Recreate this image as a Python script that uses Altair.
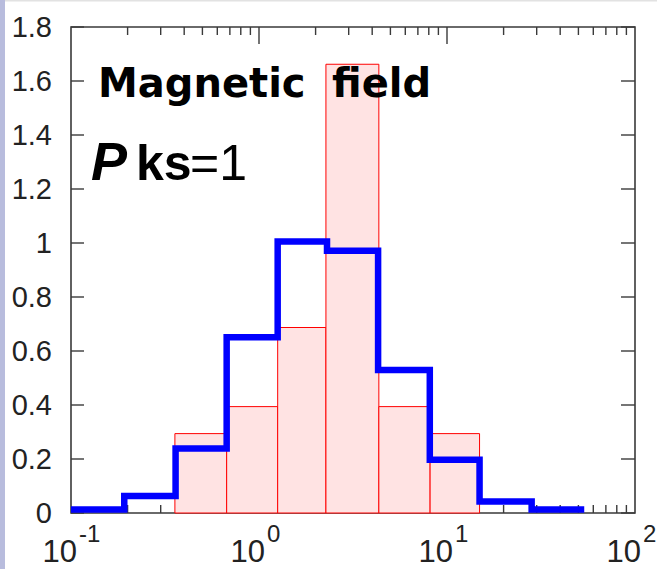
import altair as alt
import pandas as pd

# ---- data ----
# pink reference histogram (bin edges and heights)
pink_left = [0.357, 0.673, 1.257, 2.27, 4.34, 8.13]
pink_right = [0.673, 1.257, 2.27, 4.34, 8.13, 14.9]
pink_value = [0.294, 0.394, 0.687, 1.662, 0.394, 0.294]

# blue step histogram (bin edges and heights)
blue_edges = [0.1, 0.192, 0.36, 0.673, 1.257, 2.3, 4.3, 8.1, 14.9, 28.2, 53.7]
blue_value = [0.013, 0.063, 0.239, 0.651, 1.006, 0.971, 0.530, 0.197, 0.043, 0.013]

# axes
y_ticks = [0, 0.2, 0.4, 0.6, 0.8, 1.0, 1.2, 1.4, 1.6, 1.8]
y_tick_labels = ["0", "0.2", "0.4", "0.6", "0.8", "1", "1.2", "1.4", "1.6", "1.8"]
x_major = [1, 10]
x_minor = [0.2, 0.3, 0.4, 0.5, 0.6, 0.7, 0.8, 0.9,
           2, 3, 4, 5, 6, 7, 8, 9,
           20, 30, 40, 50, 60, 70, 80, 90]
x_label_values = [0.1, 1, 10, 100]
x_label_base = ["10", "10", "10", "10"]
x_label_exp = ["-1", "0", "1", "2"]

# annotation text
title_words = ["Magnetic", "field"]
pks_parts = ["P", "ks", "=1"]

# ---- layout / style ----
W, H = 564, 486
TICK = "#3a3a3a"
FONT = "'Liberation Sans', Arial, Helvetica, sans-serif"

xs = alt.Scale(type="log", domain=[0.1, 100])
ys = alt.Scale(domain=[0, 1.8])

ytick_df = pd.DataFrame({"v": y_ticks, "lab": y_tick_labels})
xmaj_df = pd.DataFrame({"v": x_major})
xmin_df = pd.DataFrame({"v": x_minor})

left_ticks = alt.Chart(ytick_df).mark_rule(color=TICK, strokeWidth=1.4).encode(
    y=alt.Y("v:Q", scale=ys, axis=None),
    x=alt.value(0), x2=alt.value(13))
right_ticks = alt.Chart(ytick_df).mark_rule(color=TICK, strokeWidth=1.4).encode(
    y=alt.Y("v:Q", scale=ys, axis=None),
    x=alt.value(W - 14), x2=alt.value(W))
y_labels = alt.Chart(ytick_df).mark_text(align="right", baseline="middle", dx=-19, dy=1,
                                         font=FONT, fontSize=29, color="#222222").encode(
    y=alt.Y("v:Q", scale=ys, axis=None), x=alt.value(0), text="lab:N")

def xticks(df, length):
    top = alt.Chart(df).mark_rule(color=TICK, strokeWidth=1.4).encode(
        x=alt.X("v:Q", scale=xs, axis=None), y=alt.value(0), y2=alt.value(length))
    bot = alt.Chart(df).mark_rule(color=TICK, strokeWidth=1.4).encode(
        x=alt.X("v:Q", scale=xs, axis=None), y=alt.value(H), y2=alt.value(H - length))
    return [top, bot]

pink_df = pd.DataFrame({"x0": pink_left, "x1": pink_right, "v": pink_value})
bars = alt.Chart(pink_df).mark_rect(fill="#FFE3E3", stroke="#FF0000", strokeWidth=1).encode(
    x=alt.X("x0:Q", scale=xs, axis=None), x2="x1:Q",
    y=alt.Y("v:Q", scale=ys, axis=None), y2=alt.datum(0))

blue_df = pd.DataFrame({"x": blue_edges, "v": blue_value + [blue_value[-1]]})
line = alt.Chart(blue_df).mark_line(color="#0000FF", strokeWidth=6.5, interpolate="step-after",
                                    strokeCap="butt", strokeJoin="miter").encode(
    x=alt.X("x:Q", scale=xs, axis=None), y=alt.Y("v:Q", scale=ys, axis=None))

xl_df = pd.DataFrame({"v": x_label_values, "base": x_label_base, "exp": x_label_exp})
xl_base = alt.Chart(xl_df).mark_text(align="right", baseline="alphabetic", dx=6,
                                     font=FONT, fontSize=31, color="#222222").encode(
    x=alt.X("v:Q", scale=xs, axis=None), y=alt.value(H + 49), text="base:N")
xl_exp = alt.Chart(xl_df).mark_text(align="left", baseline="alphabetic", dx=8,
                                    font=FONT, fontSize=24, color="#222222").encode(
    x=alt.X("v:Q", scale=xs, axis=None), y=alt.value(H + 29), text="exp:N")

def label(text, x, y, **kw):
    return alt.Chart(pd.DataFrame({"t": [text]})).mark_text(
        align="left", baseline="alphabetic", color="#000000", **kw).encode(
        x=alt.value(x), y=alt.value(y), text="t:N")

ann = [
    label(title_words[0], 27, 70, font="DejaVu Sans", fontSize=40, fontWeight="bold"),
    label(title_words[1], 261, 70, font="DejaVu Sans", fontSize=40, fontWeight="bold"),
    label(pks_parts[0], 20, 153, font=FONT, fontSize=54, fontWeight="bold", fontStyle="italic"),
    label(pks_parts[1], 65, 153, font=FONT, fontSize=50, fontWeight="bold"),
    label(pks_parts[2], 119, 153, font=FONT, fontSize=50),
]

one = pd.DataFrame({"k": [0]})
left_strip = alt.Chart(one).mark_rect(color="#B8BCDD").encode(
    x=alt.value(-71), x2=alt.value(-66), y=alt.value(-27), y2=alt.value(H + 56))
top_strip = alt.Chart(one).mark_rect(color="#E2E2E2").encode(
    x=alt.value(-66), x2=alt.value(W + 22), y=alt.value(-27), y2=alt.value(-25.5))

layers = [left_strip, top_strip, left_ticks, right_ticks] + xticks(xmaj_df, 17) + xticks(xmin_df, 8) \
    + [bars, line, y_labels, xl_base, xl_exp] + ann

chart = alt.layer(*layers).properties(
    width=W, height=H,
    autosize=alt.AutoSizeParams(type="none"),
    padding={"left": 71, "top": 27, "right": 22, "bottom": 56},
    background="white",
).configure_view(stroke="#3a3a3a", strokeWidth=1.6)

chart.save("out.html", embed_options={"renderer": "svg", "actions": False})
